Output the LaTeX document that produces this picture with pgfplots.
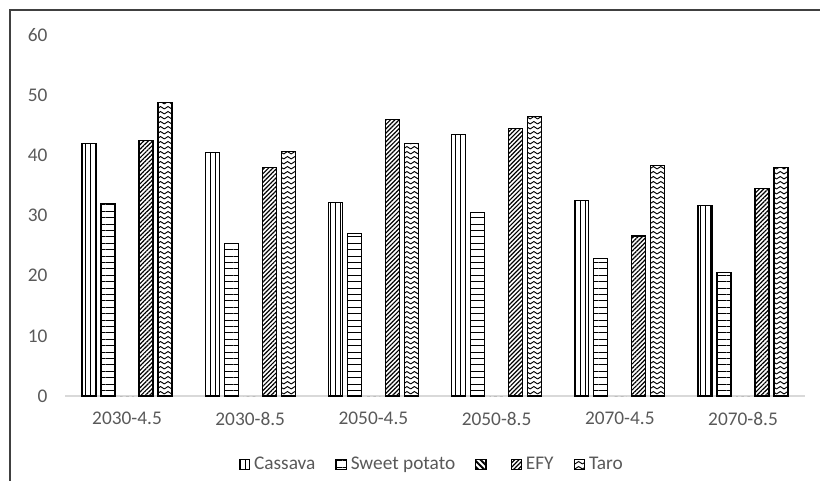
\documentclass[border=0pt]{standalone}
\usepackage{pgfplots}
\pgfplotsset{compat=1.18}
\usepackage{fontspec}
\setmainfont{Carlito}
\usetikzlibrary{patterns,patterns.meta}

\definecolor{labelgray}{HTML}{595959}
\definecolor{basegray}{HTML}{D9D9D9}

% chevron rows for the Taro bars
\tikzdeclarepattern{
  name=ZigZag,
  type=uncolored,
  bottom left={(-0.5pt,-0.5pt)},
  top right={(6.1pt,4.25pt)},
  tile size={(5.6pt,3.75pt)},
  code={
    \draw[line width=0.7pt] (0pt,0.8pt) -- (2.8pt,2.6pt) -- (5.6pt,0.8pt);
  }
}

\begin{document}
\begin{tikzpicture}
\useasboundingbox (0,0) rectangle (615pt,360pt);
% outer chart frame
\draw[black!75, line width=1.1pt] (7.5pt,-2pt) -- (7.5pt,352.5pt) -- (617pt,352.5pt);

\begin{axis}[
  at={(49.05pt,63pt)}, anchor=south west,
  scale only axis,
  width=554.4pt, height=270.75pt,
  ybar=3.75pt, bar width=10.5pt,
  xmin=-0.5, xmax=5.5,
  ymin=0, ymax=60,
  xtick={0,1,2,3,4,5},
  xticklabels={2030-4.5,2030-8.5,2050-4.5,2050-8.5,2070-4.5,2070-8.5},
  ytick={0,10,20,30,40,50,60},
  major tick length=0pt,
  axis x line*=bottom, axis y line*=left,
  y axis line style={draw=none},
  x axis line style={draw=basegray, line width=0.9pt},
  tick label style={font=\fontsize{14.5}{17}\selectfont, text=labelgray},
  yticklabel style={xshift=-10pt},
  xticklabel style={yshift=-8.5pt},
  /pgf/number format/assume math mode=true,
  legend style={draw=none, at={(0.497,-0.19)}, anchor=center,
    font=\fontsize{14.5}{17}\selectfont, text=labelgray,
    nodes={inner xsep=3pt},
    /tikz/every even column/.append style={column sep=12pt}},
  legend columns=-1,
  legend image code/.code={\draw[#1, draw=black, line width=0.9pt] (0pt,-3.6pt) rectangle (7.6pt,3.8pt);},
  every axis plot/.append style={draw=black, line width=0.9pt},
]
\addplot[pattern={Lines[angle=90, distance=3.75pt, line width=0.6pt]}] coordinates {
  (0,42.0) (1,40.5) (2,32.2) (3,43.5) (4,32.5) (5,31.6)};
\addlegendentry{Cassava}
\addplot[pattern={Lines[angle=0, distance=4.8pt, line width=0.7pt]}] coordinates {
  (0,32.0) (1,25.3) (2,27.0) (3,30.5) (4,22.8) (5,20.5)};
\addlegendentry{Sweet potato}
% unnamed series with no bars of its own
\addplot[draw=none, pattern={Lines[angle=-45, distance=3.2pt, line width=1.4pt]},
  legend image code/.code={\draw[pattern={Lines[angle=-45, distance=3.2pt, line width=1.4pt]}, draw=black, line width=0.9pt] (0pt,-3.6pt) rectangle (7.6pt,3.8pt);}]
  coordinates {(0,0) (1,0) (2,0) (3,0) (4,0) (5,0)};
\addlegendentry{}
\addplot[pattern={Lines[angle=45, distance=2.3pt, line width=0.9pt]}] coordinates {
  (0,42.5) (1,38.0) (2,46.0) (3,44.4) (4,26.6) (5,34.5)};
\addlegendentry{EFY}
\addplot[pattern=ZigZag] coordinates {
  (0,48.8) (1,40.6) (2,42.0) (3,46.5) (4,38.3) (5,38.0)};
\addlegendentry{Taro}
\end{axis}
\end{tikzpicture}
\end{document}
